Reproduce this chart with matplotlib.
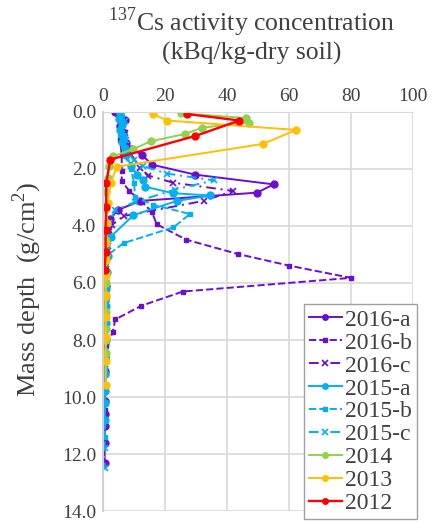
import matplotlib.pyplot as plt

plt.rcParams['font.family'] = ['Liberation Serif', 'DejaVu Serif']
plt.rcParams['mathtext.fontset'] = 'custom'
plt.rcParams['mathtext.rm'] = 'Liberation Serif'

# ---- data: (depth g/cm2, activity kBq/kg) ----
d16a = [0.0, 0.28, 0.5, 0.7, 0.9, 1.1, 1.3, 1.5, 1.85, 2.2, 2.54, 2.83, 3.12, 3.44, 3.76, 4.17,
        4.6, 5.1, 5.6, 6.1, 6.6, 7.1, 7.6, 8.1, 8.6, 9.1, 9.6, 10.14, 10.6, 11.0, 11.6, 12.3]
v16a = [3.9, 7.1, 5.5, 6.5, 6.0, 7.5, 9.0, 12.5, 15.8, 29.8, 55.0, 49.7, 12.0, 4.7, 2.3, 1.2,
        1.0, 0.9, 0.8, 0.8, 0.6, 0.6, 0.6, 0.5, 0.5, 0.5, 0.5, 0.5, 0.5, 0.5, 0.5, 0.5]

d16b = [0.1, 0.5, 1.0, 1.5, 2.08, 2.43, 2.78, 3.15, 3.5, 3.94, 4.48, 4.98, 5.39, 5.82,
        6.3, 6.8, 7.28, 7.73, 8.22, 8.7, 9.2, 9.8, 10.44]
v16b = [5.0, 5.0, 5.5, 6.0, 6.0, 6.0, 8.5, 12.5, 15.7, 17.3, 26.8, 43.4, 60.0, 80.0,
        25.7, 12.3, 3.9, 3.1, 1.0, 0.8, 0.8, 0.7, 0.7]

d16c = [0.1, 0.4, 0.74, 1.1, 1.5, 1.95, 2.23, 2.48, 2.77, 3.12, 3.65, 3.95, 4.3, 4.7,
        5.1, 5.5, 6.0, 6.5, 7.0, 7.5, 8.0, 8.5, 9.0]
v16c = [5.0, 6.0, 7.1, 7.5, 9.0, 12.0, 14.6, 22.5, 42.0, 32.4, 6.6, 3.0, 2.0, 1.5,
        1.0, 0.8, 0.8, 0.7, 0.7, 0.6, 0.6, 0.6, 0.6]

d15a = [0.05, 0.25, 0.45, 0.65, 0.85, 1.05, 1.25, 1.5, 1.9, 2.2, 2.4, 2.62, 2.85, 2.93, 3.12,
        3.62, 4.37, 5.07, 5.6, 6.2, 6.8, 7.4, 8.0, 8.6, 9.2, 9.8, 10.2, 10.8]
v15a = [5.5, 5.0, 6.0, 5.5, 6.5, 6.0, 7.0, 7.5, 9.0, 11.0, 13.0, 13.5, 22.5, 34.5, 23.8,
        9.8, 2.5, 1.7, 1.2, 1.0, 0.9, 0.8, 0.8, 0.7, 0.7, 0.7, 0.6, 0.6]

d15b = [0.1, 0.4, 0.8, 1.2, 1.5, 2.0, 2.5, 2.99, 3.25, 3.58, 4.05, 4.6, 5.04, 5.5,
        6.0, 6.6, 7.2, 7.8, 8.4, 9.0, 9.6, 10.2, 10.8, 11.4]
v15b = [5.0, 6.0, 5.5, 6.5, 7.0, 9.0, 10.0, 10.3, 16.0, 28.0, 22.7, 6.6, 1.2, 1.0,
        0.9, 0.8, 0.8, 0.7, 0.7, 0.6, 0.6, 0.6, 0.6, 0.6]

d15c = [0.05, 0.3, 0.6, 1.0, 1.4, 1.7, 1.9, 2.16, 2.4, 2.72, 3.16, 3.44, 3.9, 4.4, 4.9,
        5.4, 6.0, 6.6, 7.2, 7.8, 8.4, 9.0, 9.6, 10.2, 10.8, 11.8, 12.5]
v15c = [6.0, 7.0, 6.0, 7.5, 8.0, 10.0, 13.0, 20.5, 35.8, 23.2, 10.3, 3.9, 2.0, 1.5, 1.0,
        0.9, 0.8, 0.8, 0.7, 0.7, 0.6, 0.6, 0.6, 0.6, 0.6, 0.5, 0.5]

d14 = [0.05, 0.21, 0.37, 0.55, 0.77, 1.03, 1.3, 1.56, 1.9, 2.3, 2.8, 3.4, 3.9, 4.5, 5.0,
       5.6, 6.0, 6.5, 7.0, 7.6, 8.0, 8.47]
v14 = [25.0, 46.0, 47.0, 32.0, 26.5, 15.3, 9.8, 3.1, 2.0, 1.5, 1.0, 1.0, 1.0, 1.0, 1.0,
       0.8, 0.8, 0.8, 0.8, 0.8, 0.8, 0.8]

d13 = [0.07, 0.3, 0.63, 1.12, 1.92, 2.5, 3.2, 3.9, 4.6, 5.2, 5.75, 6.43, 7.18, 7.9, 8.75, 9.57]
v13 = [16.0, 20.7, 62.3, 51.6, 4.4, 2.5, 1.5, 1.2, 1.0, 1.0, 0.8, 0.8, 0.8, 0.8, 0.8, 0.8]

d12 = [0.07, 0.3, 0.84, 1.67, 2.5, 3.33, 4.13, 4.9, 5.54]
v12 = [27.0, 44.0, 29.8, 2.3, 1.0, 1.0, 0.8, 0.8, 0.5]

purple = '#6a0fcf'
cyan = '#00b0f0'
dashdot = (0, (5, 2.5, 1, 2.5))
txt = '#404040'

fig = plt.figure(figsize=(4.37, 5.22), dpi=100)
ax = fig.add_axes([0.236, 0.021, 0.709, 0.7645])

ax.plot(v16a, d16a, '-', color=purple, marker='o', ms=5, lw=1.4, label='2016-a')
ax.plot(v16b, d16b, '--', color=purple, marker='s', ms=3.5, lw=1.4, label='2016-b')
ax.plot(v16c, d16c, linestyle=dashdot, color=purple, marker='x', ms=5, mew=1.2, lw=1.4, label='2016-c')
ax.plot(v15a, d15a, '-', color=cyan, marker='o', ms=5, lw=1.4, label='2015-a')
ax.plot(v15b, d15b, '--', color=cyan, marker='s', ms=3.5, lw=1.4, label='2015-b')
ax.plot(v15c, d15c, linestyle=dashdot, color=cyan, marker='x', ms=5, mew=1.2, lw=1.4, label='2015-c')
ax.plot(v14, d14, '-', color='#92d050', marker='o', ms=5, lw=1.4, label='2014')
ax.plot(v13, d13, '-', color='#ffc000', marker='o', ms=5, lw=1.4, label='2013')
ax.plot(v12, d12, '-', color='#ff0000', marker='o', ms=5, lw=1.7, label='2012')

ax.set_xlim(0, 100)
ax.set_ylim(14, 0)
ax.set_xticks(range(0, 101, 20))
ax.set_yticks([0, 2, 4, 6, 8, 10, 12, 14])
ax.set_yticklabels(['%.1f' % t for t in [0, 2, 4, 6, 8, 10, 12, 14]])
ax.xaxis.tick_top()
ax.tick_params(length=0, labelsize=14, labelcolor=txt, pad=5)
ax.grid(color='#d9d9d9', lw=1.2)
ax.set_axisbelow(True)
for s in ['right', 'bottom']:
    ax.spines[s].set_visible(False)
ax.spines['top'].set_color('#d9d9d9')
ax.spines['left'].set_color('#d0d0d0')
ax.spines['left'].set_linewidth(1.5)

fig.text(0.575, 0.99, '$^{137}$Cs activity concentration\n(kBq/kg-dry soil)', ha='center', va='top',
         fontsize=18.5, color=txt, linespacing=1.15)
ax.set_ylabel('Mass depth  (g/cm$^2$)', fontsize=19, color=txt)
ax.yaxis.set_label_coords(-0.19, 0.555)

leg = ax.legend(loc='lower right', fontsize=17, handlelength=1.4, labelspacing=0.06,
                borderpad=0.2, handletextpad=0.15, borderaxespad=0, fancybox=False,
                edgecolor='#a0a0a0', framealpha=1, markerscale=0.8,
                bbox_to_anchor=(417 / 437, 1 - 519 / 522), bbox_transform=fig.transFigure)
for t in leg.get_texts():
    t.set_color(txt)

fig.savefig('out.png', dpi=100)
